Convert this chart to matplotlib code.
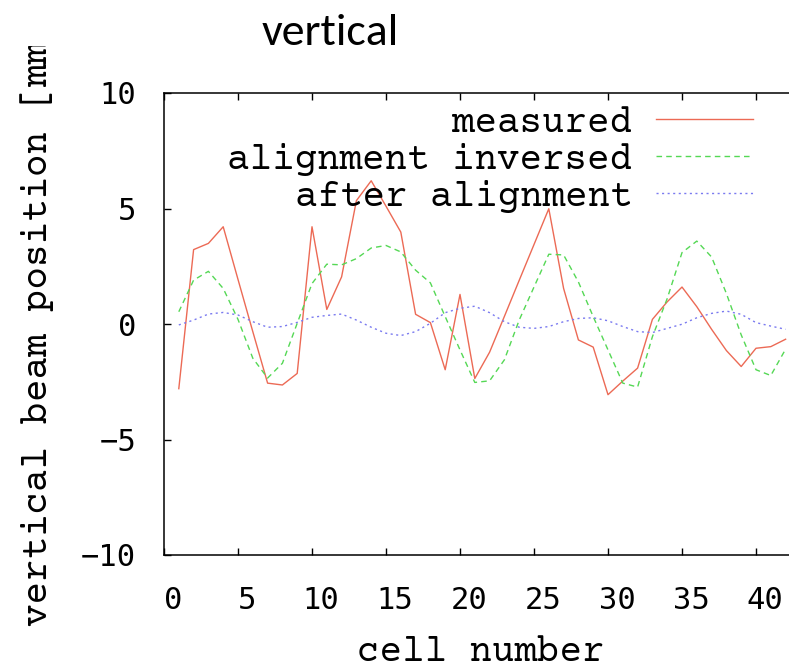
import matplotlib
matplotlib.use("Agg")
import matplotlib.pyplot as plt
from matplotlib.transforms import Bbox, TransformedBbox, ScaledTranslation

# cell numbers 1..42
cells = list(range(1, 43))

measured = [
    -2.80, 3.22, 3.49, 4.21, 1.93, -0.33, -2.56, -2.64, -2.14, 4.21,
    0.63, 2.04, 5.34, 6.20, 5.10, 3.98, 0.42, 0.06, -1.98, 1.28,
    -2.36, -1.22, 0.33, 1.89, 3.44, 4.99, 1.54, -0.69, -1.00, -3.06,
    -2.47, -1.91, 0.20, 0.96, 1.60, 0.75, -0.23, -1.15, -1.84, -1.05,
    -0.98, -0.66,
]
alignment_inversed = [
    0.53, 1.90, 2.28, 1.54, 0.20, -1.48, -2.34, -1.70, 0.03, 1.75,
    2.59, 2.56, 2.83, 3.29, 3.40, 3.12, 2.33, 1.78, 0.32, -1.12,
    -2.53, -2.46, -1.55, 0.17, 1.60, 3.02, 2.99, 1.82, 0.32, -1.12,
    -2.56, -2.73, -0.55, 1.10, 3.09, 3.59, 2.90, 1.32, -0.47, -1.98,
    -2.23, -1.09,
]
after_alignment = [
    -0.04, 0.17, 0.43, 0.50, 0.39, 0.10, -0.14, -0.11, 0.07, 0.29,
    0.37, 0.43, 0.17, -0.14, -0.40, -0.50, -0.33, 0.03, 0.49, 0.68,
    0.77, 0.49, 0.10, -0.14, -0.19, -0.11, 0.10, 0.24, 0.27, 0.14,
    -0.11, -0.33, -0.37, -0.19, -0.01, 0.27, 0.46, 0.56, 0.42, 0.06,
    -0.09, -0.23,
]

W, H = 789, 665
mono = ["Courier Prime", "Nimbus Mono PS", "FreeMono", "Liberation Mono"]
title_font = ["Carlito", "Lato"]

fig = plt.figure(figsize=(W / 100, H / 100), dpi=100)
# axes run past the right edge of the picture, as in the original
ax = fig.add_axes([164 / W, 1 - 555 / H, 666 / W, 462 / H])

ax.plot(cells, measured, color="#ec6a55", lw=1.0, label="measured")
ax.plot(cells, alignment_inversed, color="#55d855", lw=1.0,
        dashes=(4, 3), label="alignment inversed")
ax.plot(cells, after_alignment, color="#7a7af0", lw=1.0,
        dashes=(1.5, 2.5), label="after alignment")

ax.set_xlim(0, 45)
ax.set_ylim(-10, 10)
ax.set_xticks(range(0, 46, 5))
ax.set_yticks(range(-10, 11, 5))
ax.set_yticklabels(["\u221210", "\u22125", "0", "5", "10"])
ax.tick_params(direction="in", length=5, width=1, top=True, right=True,
               labelsize=22)
ax.tick_params(axis="x", pad=22)
ax.tick_params(axis="y", pad=20)
shift = ScaledTranslation(0.09, 0, fig.dpi_scale_trans)
for lab in ax.get_xticklabels():
    lab.set_family("DejaVu Sans Mono")
    lab.set_transform(lab.get_transform() + shift)
for lab in ax.get_yticklabels():
    lab.set_family("DejaVu Sans Mono")
for sp in ax.spines.values():
    sp.set_linewidth(1.1)

leg = ax.legend(loc="upper right", bbox_to_anchor=(753 / W, 1 - 106 / H),
                bbox_transform=fig.transFigure, frameon=False,
                markerfirst=False, borderpad=0, borderaxespad=0,
                handlelength=2.6, handletextpad=0.62, labelspacing=0.1,
                prop={"family": mono, "size": 27})

fig.text(330 / W, 1 - 45 / H, "vertical", family=title_font, fontsize=33,
         ha="center", va="baseline")
fig.text(481 / W, 1 - 652 / H, "cell number", family=mono, fontsize=27,
         ha="center", va="center")
ylab = fig.text(37 / W, 1 - 626 / H, "vertical beam position [mm]",
                family=mono, fontsize=27, rotation=90,
                ha="center", va="bottom")
ylab.set_clip_box(TransformedBbox(Bbox([[0, 0], [1, 1 - 46 / H]]),
                                  fig.transFigure))
ylab.set_clip_on(True)

fig.savefig("out.png", dpi=100)
